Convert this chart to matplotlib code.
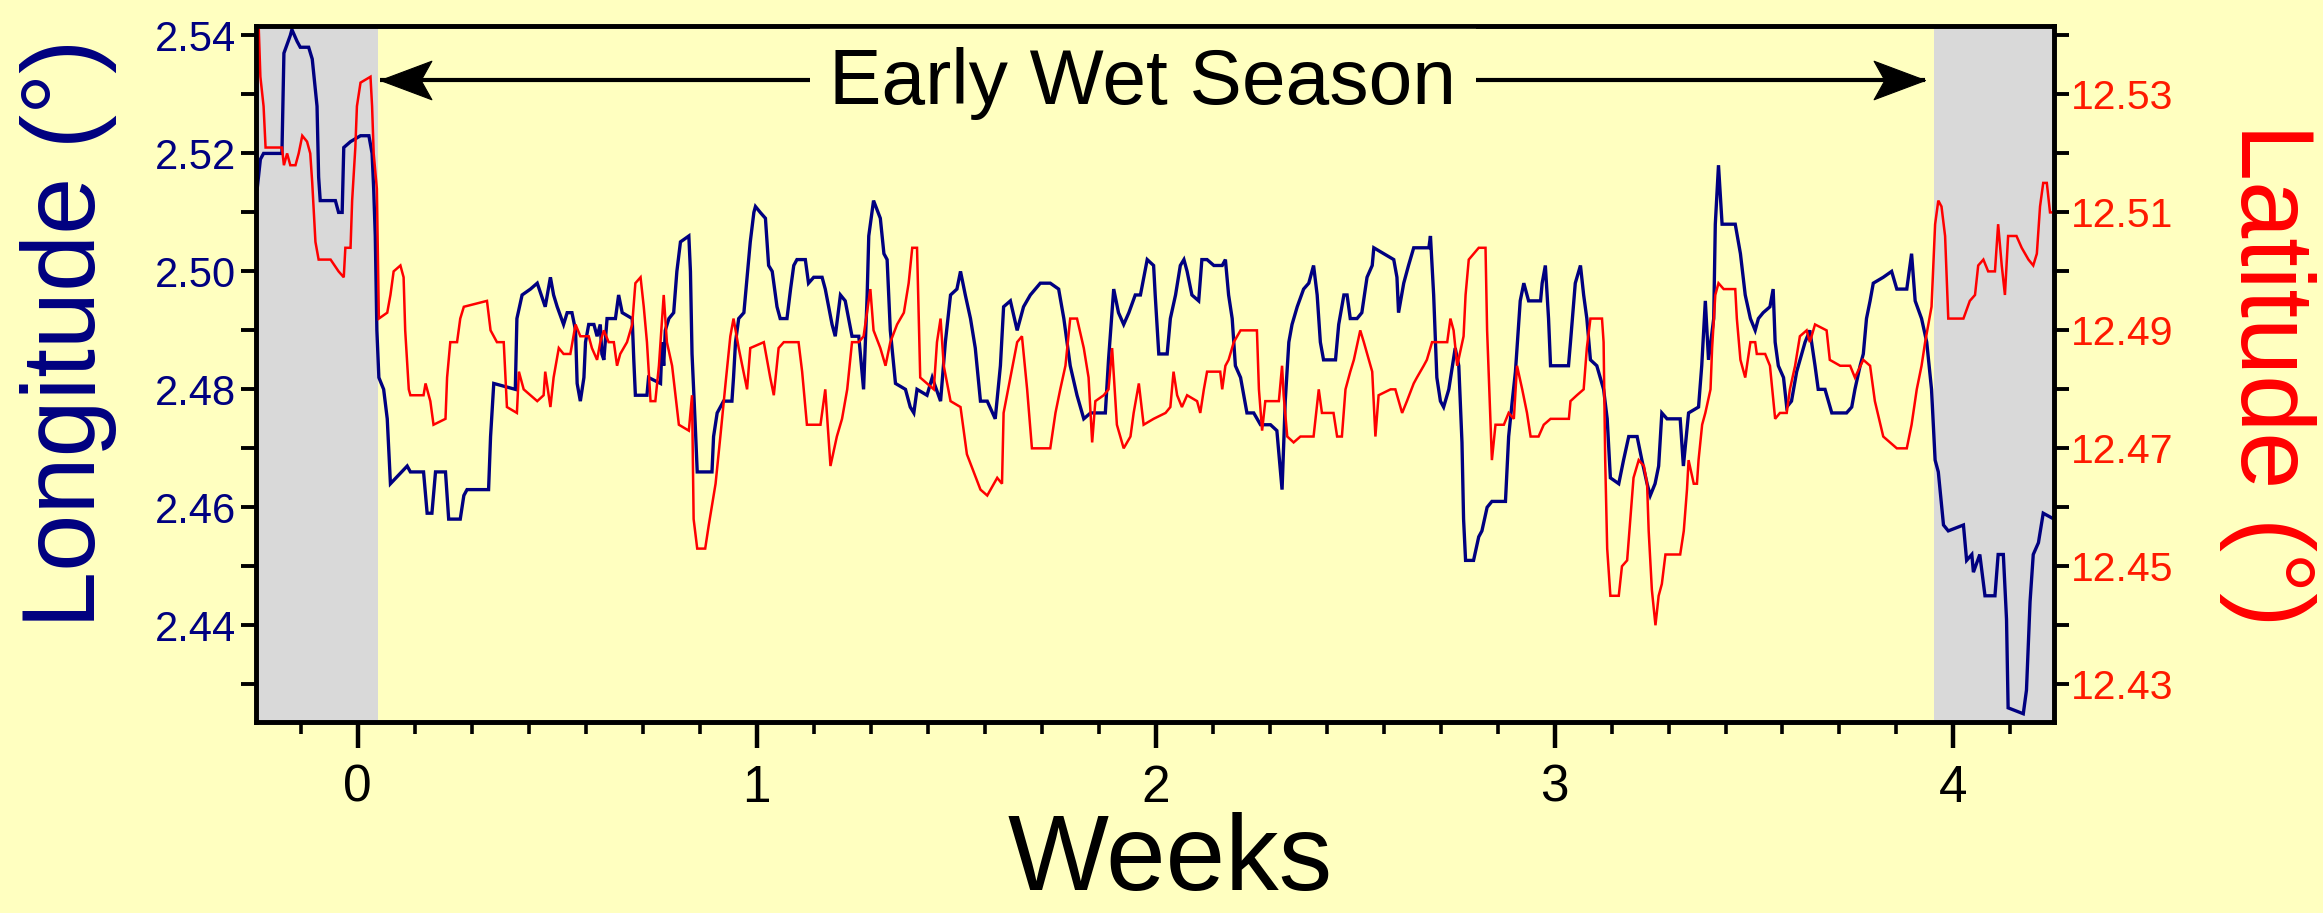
import matplotlib
matplotlib.use('Agg')
import matplotlib.pyplot as plt
import matplotlib.transforms as mtransforms
from matplotlib.path import Path
from matplotlib.ticker import FixedLocator, MultipleLocator, FormatStrFormatter

plt.rcParams['font.family'] = ['Liberation Sans', 'DejaVu Sans']

# ---------------- data ----------------
# (week, longitude in degrees)
lon_track = [
    (-0.252, 2.514), (-0.244, 2.519), (-0.236, 2.520), (-0.190, 2.520), (-0.185, 2.537), (-0.169, 2.540),
    (-0.165, 2.541), (-0.152, 2.539), (-0.144, 2.538), (-0.123, 2.538), (-0.114, 2.536), (-0.102, 2.528),
    (-0.098, 2.516), (-0.094, 2.512), (-0.056, 2.512), (-0.048, 2.510), (-0.039, 2.510), (-0.035, 2.521),
    (-0.018, 2.522), (0.007, 2.523), (0.028, 2.523), (0.036, 2.520), (0.040, 2.514), (0.044, 2.506),
    (0.048, 2.490), (0.053, 2.482), (0.065, 2.480), (0.074, 2.475), (0.082, 2.464), (0.124, 2.467),
    (0.132, 2.466), (0.165, 2.466), (0.174, 2.459), (0.186, 2.459), (0.195, 2.466), (0.220, 2.466),
    (0.228, 2.458), (0.257, 2.458), (0.266, 2.462), (0.274, 2.463), (0.328, 2.463), (0.333, 2.472),
    (0.341, 2.481), (0.395, 2.480), (0.399, 2.492), (0.412, 2.496), (0.433, 2.497), (0.450, 2.498),
    (0.470, 2.494), (0.483, 2.499), (0.491, 2.496), (0.500, 2.494), (0.516, 2.491), (0.525, 2.493),
    (0.537, 2.493), (0.546, 2.490), (0.550, 2.481), (0.558, 2.478), (0.567, 2.482), (0.571, 2.488),
    (0.579, 2.491), (0.592, 2.491), (0.600, 2.489), (0.608, 2.491), (0.612, 2.486), (0.617, 2.485),
    (0.625, 2.492), (0.646, 2.492), (0.654, 2.496), (0.663, 2.493), (0.688, 2.492), (0.692, 2.485),
    (0.696, 2.479), (0.725, 2.479), (0.729, 2.482), (0.759, 2.481), (0.763, 2.488), (0.767, 2.484),
    (0.771, 2.490), (0.780, 2.492), (0.792, 2.493), (0.800, 2.500), (0.809, 2.505), (0.830, 2.506),
    (0.834, 2.500), (0.838, 2.486), (0.846, 2.474), (0.851, 2.466), (0.888, 2.466), (0.892, 2.472),
    (0.901, 2.476), (0.917, 2.478), (0.938, 2.478), (0.942, 2.482), (0.947, 2.488), (0.955, 2.492),
    (0.968, 2.493), (0.976, 2.499), (0.984, 2.505), (0.993, 2.510), (0.997, 2.511), (1.009, 2.510),
    (1.022, 2.509), (1.030, 2.501), (1.039, 2.500), (1.051, 2.494), (1.059, 2.492), (1.076, 2.492),
    (1.085, 2.497), (1.093, 2.501), (1.101, 2.502), (1.122, 2.502), (1.130, 2.498), (1.143, 2.499),
    (1.164, 2.499), (1.172, 2.497), (1.189, 2.491), (1.197, 2.489), (1.210, 2.496), (1.222, 2.495),
    (1.239, 2.489), (1.256, 2.489), (1.268, 2.480), (1.277, 2.496), (1.281, 2.506), (1.293, 2.512),
    (1.310, 2.509), (1.319, 2.503), (1.327, 2.502), (1.335, 2.490), (1.348, 2.481), (1.373, 2.480),
    (1.385, 2.477), (1.394, 2.476), (1.402, 2.480), (1.427, 2.479), (1.440, 2.482), (1.461, 2.478),
    (1.473, 2.488), (1.486, 2.496), (1.502, 2.497), (1.511, 2.500), (1.523, 2.496), (1.536, 2.492),
    (1.548, 2.487), (1.561, 2.478), (1.578, 2.478), (1.598, 2.475), (1.611, 2.484), (1.619, 2.494),
    (1.636, 2.495), (1.653, 2.490), (1.669, 2.494), (1.686, 2.496), (1.711, 2.498), (1.736, 2.498),
    (1.757, 2.497), (1.770, 2.492), (1.786, 2.484), (1.803, 2.479), (1.820, 2.475), (1.837, 2.476),
    (1.874, 2.476), (1.882, 2.485), (1.895, 2.497), (1.907, 2.493), (1.920, 2.491), (1.933, 2.493),
    (1.949, 2.496), (1.962, 2.496), (1.979, 2.502), (1.995, 2.501), (1.999, 2.496), (2.008, 2.486),
    (2.029, 2.486), (2.037, 2.492), (2.050, 2.496), (2.062, 2.501), (2.071, 2.502), (2.079, 2.500),
    (2.091, 2.496), (2.108, 2.495), (2.116, 2.502), (2.129, 2.502), (2.146, 2.501), (2.167, 2.501),
    (2.175, 2.502), (2.183, 2.496), (2.192, 2.492), (2.200, 2.484), (2.213, 2.482), (2.229, 2.476),
    (2.246, 2.476), (2.263, 2.474), (2.288, 2.474), (2.304, 2.473), (2.317, 2.463), (2.325, 2.478),
    (2.334, 2.488), (2.342, 2.491), (2.355, 2.494), (2.371, 2.497), (2.384, 2.498), (2.396, 2.501),
    (2.405, 2.496), (2.413, 2.488), (2.421, 2.485), (2.451, 2.485), (2.459, 2.491), (2.472, 2.496),
    (2.480, 2.496), (2.488, 2.492), (2.505, 2.492), (2.517, 2.493), (2.530, 2.499), (2.543, 2.501),
    (2.547, 2.504), (2.597, 2.502), (2.605, 2.499), (2.609, 2.493), (2.622, 2.498), (2.634, 2.501),
    (2.647, 2.504), (2.685, 2.504), (2.689, 2.506), (2.697, 2.496), (2.705, 2.482), (2.714, 2.478),
    (2.722, 2.477), (2.735, 2.480), (2.751, 2.487), (2.760, 2.484), (2.768, 2.471), (2.772, 2.458),
    (2.777, 2.451), (2.797, 2.451), (2.810, 2.455), (2.818, 2.456), (2.831, 2.460), (2.843, 2.461),
    (2.877, 2.461), (2.885, 2.472), (2.894, 2.478), (2.902, 2.483), (2.906, 2.487), (2.914, 2.495),
    (2.923, 2.498), (2.935, 2.495), (2.965, 2.495), (2.969, 2.498), (2.977, 2.501), (2.985, 2.492),
    (2.990, 2.484), (3.035, 2.484), (3.040, 2.488), (3.052, 2.498), (3.065, 2.501), (3.073, 2.496),
    (3.081, 2.492), (3.090, 2.485), (3.106, 2.484), (3.123, 2.480), (3.132, 2.475), (3.140, 2.465),
    (3.161, 2.464), (3.173, 2.468), (3.186, 2.472), (3.207, 2.472), (3.219, 2.468), (3.232, 2.464),
    (3.240, 2.462), (3.252, 2.464), (3.261, 2.467), (3.269, 2.476), (3.282, 2.475), (3.315, 2.475),
    (3.323, 2.467), (3.336, 2.476), (3.361, 2.477), (3.369, 2.484), (3.378, 2.495), (3.386, 2.485),
    (3.399, 2.492), (3.403, 2.508), (3.411, 2.518), (3.420, 2.508), (3.453, 2.508), (3.466, 2.503),
    (3.478, 2.496), (3.491, 2.492), (3.503, 2.490), (3.511, 2.492), (3.523, 2.493), (3.540, 2.494),
    (3.548, 2.497), (3.553, 2.488), (3.561, 2.484), (3.574, 2.482), (3.582, 2.477), (3.594, 2.478),
    (3.607, 2.483), (3.628, 2.488), (3.640, 2.490), (3.653, 2.484), (3.661, 2.480), (3.678, 2.480),
    (3.695, 2.476), (3.732, 2.476), (3.745, 2.477), (3.753, 2.480), (3.766, 2.484), (3.774, 2.486),
    (3.782, 2.492), (3.791, 2.495), (3.799, 2.498), (3.824, 2.499), (3.845, 2.500), (3.858, 2.497),
    (3.883, 2.497), (3.895, 2.503), (3.904, 2.495), (3.920, 2.492), (3.933, 2.488), (3.945, 2.480),
    (3.954, 2.468), (3.962, 2.466), (3.975, 2.457), (3.987, 2.456), (4.025, 2.457), (4.033, 2.451),
    (4.046, 2.452), (4.050, 2.449), (4.066, 2.452), (4.079, 2.445), (4.104, 2.445), (4.112, 2.452),
    (4.125, 2.452), (4.133, 2.441), (4.137, 2.426), (4.175, 2.425), (4.183, 2.429), (4.192, 2.444),
    (4.200, 2.452), (4.213, 2.454), (4.225, 2.459), (4.252, 2.458),
]

# (week, latitude in degrees)
lat_track = [
    (-0.248, 12.541), (-0.244, 12.533), (-0.236, 12.528), (-0.231, 12.521), (-0.190, 12.521), (-0.185, 12.518),
    (-0.177, 12.520), (-0.169, 12.518), (-0.156, 12.518), (-0.148, 12.520), (-0.139, 12.523), (-0.127, 12.522),
    (-0.119, 12.520), (-0.114, 12.515), (-0.106, 12.505), (-0.098, 12.502), (-0.068, 12.502), (-0.048, 12.500),
    (-0.035, 12.499), (-0.031, 12.504), (-0.018, 12.504), (-0.014, 12.512), (-0.006, 12.521), (-0.002, 12.528),
    (0.007, 12.532), (0.032, 12.533), (0.036, 12.528), (0.040, 12.520), (0.048, 12.514), (0.053, 12.492),
    (0.074, 12.493), (0.082, 12.496), (0.090, 12.500), (0.107, 12.501), (0.115, 12.499), (0.119, 12.490),
    (0.128, 12.480), (0.132, 12.479), (0.165, 12.479), (0.170, 12.481), (0.182, 12.478), (0.190, 12.474),
    (0.220, 12.475), (0.224, 12.482), (0.232, 12.488), (0.249, 12.488), (0.257, 12.492), (0.266, 12.494),
    (0.324, 12.495), (0.333, 12.490), (0.349, 12.488), (0.366, 12.488), (0.374, 12.477), (0.399, 12.476),
    (0.404, 12.483), (0.416, 12.480), (0.450, 12.478), (0.466, 12.479), (0.470, 12.483), (0.483, 12.477),
    (0.491, 12.482), (0.504, 12.487), (0.516, 12.486), (0.533, 12.486), (0.546, 12.491), (0.558, 12.489),
    (0.579, 12.489), (0.587, 12.487), (0.600, 12.485), (0.608, 12.488), (0.617, 12.490), (0.629, 12.488),
    (0.642, 12.488), (0.650, 12.484), (0.658, 12.486), (0.675, 12.488), (0.688, 12.491), (0.696, 12.498),
    (0.709, 12.499), (0.717, 12.494), (0.725, 12.488), (0.734, 12.478), (0.746, 12.478), (0.755, 12.484),
    (0.767, 12.496), (0.775, 12.488), (0.788, 12.484), (0.805, 12.474), (0.830, 12.473), (0.838, 12.479),
    (0.842, 12.458), (0.851, 12.453), (0.871, 12.453), (0.880, 12.457), (0.897, 12.464), (0.909, 12.472),
    (0.922, 12.481), (0.934, 12.489), (0.942, 12.492), (0.955, 12.487), (0.976, 12.480), (0.984, 12.487),
    (1.018, 12.488), (1.034, 12.482), (1.043, 12.479), (1.055, 12.487), (1.068, 12.488), (1.105, 12.488),
    (1.114, 12.483), (1.126, 12.474), (1.160, 12.474), (1.172, 12.480), (1.185, 12.467), (1.201, 12.472),
    (1.214, 12.475), (1.227, 12.480), (1.239, 12.488), (1.256, 12.488), (1.268, 12.489), (1.285, 12.497),
    (1.293, 12.490), (1.310, 12.487), (1.323, 12.484), (1.335, 12.488), (1.352, 12.491), (1.369, 12.493),
    (1.381, 12.498), (1.390, 12.504), (1.402, 12.504), (1.406, 12.493), (1.410, 12.482), (1.444, 12.480),
    (1.452, 12.488), (1.461, 12.492), (1.469, 12.484), (1.486, 12.478), (1.511, 12.477), (1.527, 12.469),
    (1.544, 12.466), (1.561, 12.463), (1.578, 12.462), (1.603, 12.465), (1.615, 12.464), (1.619, 12.476),
    (1.636, 12.482), (1.653, 12.488), (1.665, 12.489), (1.678, 12.480), (1.690, 12.470), (1.736, 12.470),
    (1.749, 12.476), (1.761, 12.480), (1.774, 12.484), (1.786, 12.492), (1.803, 12.492), (1.820, 12.487),
    (1.832, 12.482), (1.841, 12.471), (1.849, 12.478), (1.870, 12.479), (1.882, 12.480), (1.891, 12.487),
    (1.903, 12.474), (1.920, 12.470), (1.937, 12.472), (1.945, 12.476), (1.958, 12.481), (1.970, 12.474),
    (1.995, 12.475), (2.025, 12.476), (2.037, 12.477), (2.045, 12.483), (2.054, 12.479), (2.066, 12.477),
    (2.079, 12.479), (2.104, 12.478), (2.112, 12.476), (2.121, 12.480), (2.129, 12.483), (2.162, 12.483),
    (2.167, 12.480), (2.175, 12.484), (2.183, 12.485), (2.196, 12.488), (2.213, 12.490), (2.254, 12.490),
    (2.259, 12.480), (2.267, 12.473), (2.275, 12.478), (2.309, 12.478), (2.317, 12.484), (2.321, 12.479),
    (2.330, 12.472), (2.346, 12.471), (2.363, 12.472), (2.396, 12.472), (2.409, 12.480), (2.417, 12.476),
    (2.446, 12.476), (2.455, 12.472), (2.467, 12.472), (2.476, 12.480), (2.488, 12.483), (2.497, 12.485),
    (2.513, 12.490), (2.522, 12.488), (2.543, 12.483), (2.551, 12.472), (2.559, 12.479), (2.589, 12.480),
    (2.601, 12.480), (2.618, 12.476), (2.630, 12.478), (2.647, 12.481), (2.655, 12.482), (2.672, 12.484),
    (2.680, 12.485), (2.693, 12.488), (2.731, 12.488), (2.739, 12.492), (2.747, 12.490), (2.756, 12.484),
    (2.772, 12.489), (2.777, 12.496), (2.785, 12.502), (2.810, 12.504), (2.827, 12.504), (2.831, 12.490),
    (2.839, 12.475), (2.843, 12.468), (2.852, 12.474), (2.873, 12.474), (2.885, 12.476), (2.898, 12.475),
    (2.906, 12.484), (2.919, 12.480), (2.931, 12.476), (2.940, 12.472), (2.960, 12.472), (2.973, 12.474),
    (2.990, 12.475), (3.036, 12.475), (3.040, 12.478), (3.056, 12.479), (3.073, 12.480), (3.081, 12.487),
    (3.090, 12.492), (3.119, 12.492), (3.123, 12.488), (3.127, 12.468), (3.132, 12.453), (3.140, 12.445),
    (3.161, 12.445), (3.169, 12.450), (3.182, 12.451), (3.190, 12.458), (3.198, 12.465), (3.211, 12.468),
    (3.224, 12.467), (3.232, 12.464), (3.236, 12.456), (3.244, 12.446), (3.253, 12.440), (3.261, 12.445),
    (3.269, 12.447), (3.278, 12.452), (3.315, 12.452), (3.324, 12.456), (3.332, 12.463), (3.336, 12.468),
    (3.349, 12.464), (3.357, 12.464), (3.361, 12.468), (3.370, 12.474), (3.378, 12.476), (3.391, 12.480),
    (3.395, 12.487), (3.403, 12.496), (3.411, 12.498), (3.424, 12.497), (3.453, 12.497), (3.457, 12.492),
    (3.466, 12.485), (3.478, 12.482), (3.491, 12.488), (3.503, 12.488), (3.507, 12.486), (3.528, 12.486),
    (3.540, 12.484), (3.553, 12.475), (3.565, 12.476), (3.582, 12.476), (3.590, 12.480), (3.603, 12.484),
    (3.615, 12.489), (3.632, 12.490), (3.640, 12.488), (3.653, 12.491), (3.682, 12.490), (3.690, 12.485),
    (3.716, 12.484), (3.741, 12.484), (3.753, 12.482), (3.774, 12.485), (3.791, 12.484), (3.803, 12.478),
    (3.824, 12.472), (3.841, 12.471), (3.858, 12.470), (3.883, 12.470), (3.895, 12.474), (3.908, 12.480),
    (3.920, 12.484), (3.929, 12.488), (3.945, 12.494), (3.954, 12.508), (3.962, 12.512), (3.970, 12.511),
    (3.979, 12.506), (3.987, 12.492), (4.025, 12.492), (4.041, 12.495), (4.054, 12.496), (4.062, 12.501),
    (4.075, 12.502), (4.087, 12.500), (4.104, 12.500), (4.112, 12.508), (4.121, 12.501), (4.129, 12.496),
    (4.137, 12.506), (4.158, 12.506), (4.171, 12.504), (4.188, 12.502), (4.200, 12.501), (4.209, 12.503),
    (4.217, 12.511), (4.225, 12.515), (4.234, 12.515), (4.242, 12.510), (4.252, 12.510),
]

week_ticks = [0, 1, 2, 3, 4]
lon_ticks = [2.44, 2.46, 2.48, 2.50, 2.52, 2.54]
lat_ticks = [12.43, 12.45, 12.47, 12.49, 12.51, 12.53]
week_range = (-0.255, 4.252)
lon_range = (2.4236, 2.5416)
lat_range = (12.4236, 12.5416)
wet_season = (0.051, 3.950)          # unshaded period
arrow_span = (0.057, 3.929)
season_label = "Early Wet Season"

# ---------------- style ----------------
BG = '#FFFFC0'
GREY = '#D9D9D9'
NAVY = '#000080'
RED = '#FF0000'

fig = plt.figure(figsize=(23.23, 9.13), dpi=100, facecolor=BG)
ax = fig.add_axes([0.1102, 0.2092, 0.7740, 0.7623])
ax.set_facecolor(BG)
ax2 = ax.twinx()

# shaded (outside wet season) periods
ax.axvspan(week_range[0], wet_season[0], color=GREY, lw=0, zorder=0.5)
ax.axvspan(wet_season[1], week_range[1], color=GREY, lw=0, zorder=0.5)

lon_w = [p[0] for p in lon_track]
lon_v = [p[1] for p in lon_track]
lat_w = [p[0] for p in lat_track]
lat_v = [p[1] for p in lat_track]

ax.plot(lon_w, lon_v, color=NAVY, lw=2.4, zorder=2, solid_joinstyle='miter')
ax2.plot(lat_w, lat_v, color=RED, lw=1.8, zorder=2, solid_joinstyle='miter')

# season annotation: double arrow with notched heads, label on a background box
trans = mtransforms.blended_transform_factory(ax2.transData, ax2.transAxes)
arrow_y = 0.9224
ax2.plot(arrow_span, [arrow_y, arrow_y], transform=trans, color='black', lw=3,
         solid_capstyle='butt', zorder=2.1)
head_r = Path([(0, 0), (-1, 0.375), (-0.79, 0), (-1, -0.375), (0, 0)],
              [Path.MOVETO, Path.LINETO, Path.LINETO, Path.LINETO, Path.CLOSEPOLY])
head_l = Path([(0, 0), (1, 0.375), (0.79, 0), (1, -0.375), (0, 0)],
              [Path.MOVETO, Path.LINETO, Path.LINETO, Path.LINETO, Path.CLOSEPOLY])
ax2.plot([arrow_span[1]], [arrow_y], transform=trans, marker=head_r, markersize=74,
         color='black', mec='black', mew=0.8, zorder=2.15)
ax2.plot([arrow_span[0]], [arrow_y], transform=trans, marker=head_l, markersize=74,
         color='black', mec='black', mew=0.8, zorder=2.15)
ax2.text((arrow_span[0] + arrow_span[1]) / 2 - 0.025, 0.888, season_label,
         transform=trans, ha='center', va='baseline', fontsize=56.5, color='black',
         zorder=2.2, bbox=dict(boxstyle='square,pad=0.25', fc=BG, ec='none'))

# limits
ax.set_xlim(*week_range)
ax.set_ylim(*lon_range)
ax2.set_ylim(*lat_range)

# ticks
ax.xaxis.set_major_locator(FixedLocator(week_ticks))
ax.xaxis.set_minor_locator(MultipleLocator(1 / 7))
ax.tick_params(axis='x', which='major', direction='out', length=19, width=3.2,
               pad=11, labelsize=37, labelcolor='black')
ax.tick_params(axis='x', which='minor', direction='out', length=8.5, width=2.6)

ax.yaxis.set_major_locator(FixedLocator(lon_ticks))
ax.yaxis.set_minor_locator(MultipleLocator(0.01))
ax.yaxis.set_major_formatter(FormatStrFormatter('%.2f'))
ax.tick_params(axis='y', which='both', direction='out', length=10.8, width=2.8)
ax.tick_params(axis='y', which='major', labelsize=30, labelcolor=NAVY, pad=3.5)

ax2.yaxis.set_major_locator(FixedLocator(lat_ticks))
ax2.yaxis.set_minor_locator(MultipleLocator(0.01))
ax2.yaxis.set_major_formatter(FormatStrFormatter('%.2f'))
ax2.tick_params(axis='y', which='both', direction='out', length=10.8, width=2.8)
ax2.tick_params(axis='y', which='major', labelsize=29.5, labelcolor='#FF1A00', pad=1.5)

for a in (ax, ax2):
    for sp in a.spines.values():
        sp.set_linewidth(3.3)
        sp.set_color('black')
        sp.set_zorder(3)

# axis labels
fig.text(0.5037, 0.025, 'Weeks', ha='center', va='baseline', fontsize=77, color='black')
fig.text(0.0297, 0.6347, 'Longitude (°)', rotation=90, ha='center', va='center',
         fontsize=74, color=NAVY)
fig.text(0.9763, 0.590, 'Latitude (°)', rotation=270, ha='center', va='center',
         fontsize=74, color=RED)

fig.savefig('out.png', dpi=100, facecolor=BG)
